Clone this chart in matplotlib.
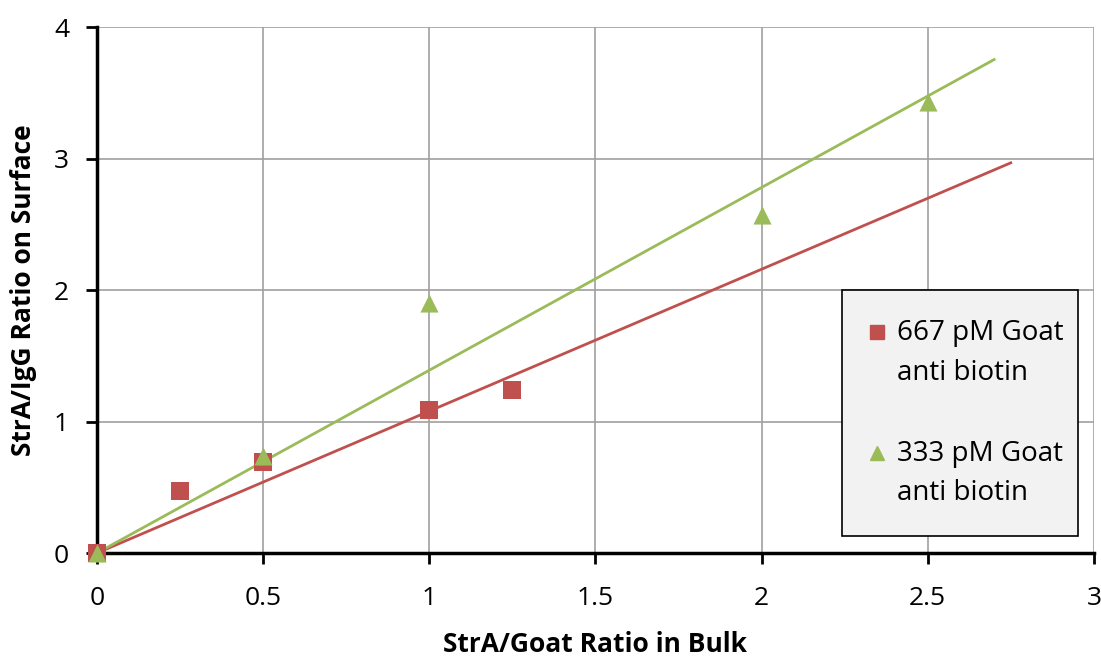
import numpy as np
import matplotlib
matplotlib.use("Agg")
import matplotlib.pyplot as plt
from matplotlib.lines import Line2D
from matplotlib.legend_handler import HandlerLine2D
from matplotlib.transforms import Affine2D

plt.rcParams['font.family'] = ['Open Sans', 'DejaVu Sans']

red_x = [0, 0.25, 0.5, 1.0, 1.25]
red_y = [0, 0.47, 0.69, 1.09, 1.24]
green_x = [0, 0.5, 1.0, 2.0, 2.5]
green_y = [0, 0.74, 1.90, 2.57, 3.43]
red_label = "667 pM Goat\nanti biotin"
green_label = "333 pM Goat\nanti biotin"
red_trend_end = 2.75
green_trend_end = 2.7

RED = "#C0504D"
GREEN = "#9BBB59"
LEG_FS = 20
LEG_LS = 1.55

fig = plt.figure(figsize=(11.01, 6.6), dpi=100)
ax = fig.add_axes([0.088, 0.162, 0.9055, 0.797])

def slope0(x, y):
    x = np.asarray(x); y = np.asarray(y)
    return (x * y).sum() / (x * x).sum()

sr = slope0(red_x, red_y)
sg = slope0(green_x, green_y)
ax.plot([0, red_trend_end], [0, sr * red_trend_end], color=RED, lw=2, zorder=3)
ax.plot([0, green_trend_end], [0, sg * green_trend_end], color=GREEN, lw=2, zorder=3)
ax.scatter(red_x, red_y, marker='s', s=170, color=RED, zorder=4, linewidths=0, clip_on=False)
ax.scatter(green_x, green_y, marker='^', s=170, color=GREEN, zorder=5, linewidths=0, clip_on=False)

ax.set_xlim(0, 3)
ax.set_ylim(0, 4)
ax.set_xticks([0, 0.5, 1, 1.5, 2, 2.5, 3])
ax.set_xticklabels(["0", "0.5", "1", "1.5", "2", "2.5", "3"])
ax.set_yticks([0, 1, 2, 3, 4])
ax.grid(True, color="#a0a0a0", lw=1.2)
ax.set_axisbelow(True)
for s in ['top', 'right']:
    ax.spines[s].set_visible(False)
for s in ['left', 'bottom']:
    ax.spines[s].set_linewidth(2.5)
    ax.spines[s].set_color('black')
ax.tick_params(axis='both', direction='out', length=8, width=2, labelsize=19, colors='black')
ax.tick_params(axis='x', pad=16)
ax.tick_params(axis='y', pad=12)
ax.set_xlabel("StrA/Goat Ratio in Bulk", fontsize=19, fontweight='bold', labelpad=14)
ax.set_ylabel("StrA/IgG Ratio on Surface", fontsize=19, fontweight='bold', labelpad=12)


class TopLineHandler(HandlerLine2D):
    """Place the legend marker next to the first text line."""
    def create_artists(self, legend, orig_handle, xdescent, ydescent,
                       width, height, fontsize, trans):
        dy = fontsize * LEG_LS * 0.5
        trans = Affine2D().translate(0, dy) + trans
        return super().create_artists(legend, orig_handle, xdescent, ydescent,
                                      width, height, fontsize, trans)


handles = [Line2D([], [], marker='s', color=RED, ls='none', markersize=10),
           Line2D([], [], marker='^', color=GREEN, ls='none', markersize=10)]
leg = ax.legend(handles, [red_label, green_label], loc='lower left',
                bbox_to_anchor=(0.747, 0.032, 0.237, 0.46), mode='expand',
                fontsize=LEG_FS, frameon=True,
                fancybox=False, edgecolor='black', facecolor='#f2f2f2',
                handletextpad=0.5, handlelength=0.45, labelspacing=1.9,
                borderpad=1.05, borderaxespad=0,
                handler_map={Line2D: TopLineHandler()})
for t in leg.get_texts():
    t.set_linespacing(LEG_LS)
leg.get_frame().set_linewidth(1.2)
leg.get_frame().set_alpha(1)

fig.savefig("out.png", dpi=100)
